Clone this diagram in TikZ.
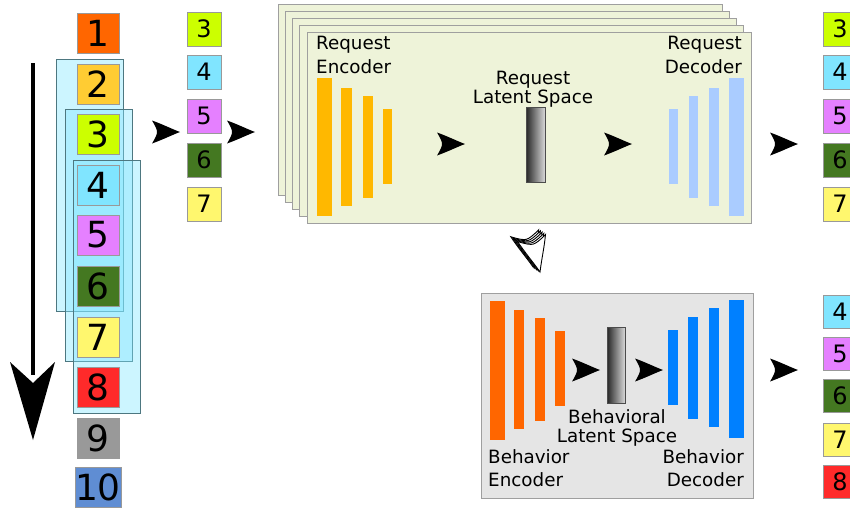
\documentclass[tikz,border=0pt]{standalone}
\usepackage{fontspec}
\setmainfont{DejaVu Sans}

\definecolor{cOne}{HTML}{FF6600}
\definecolor{cTwo}{HTML}{FFCC33}
\definecolor{cThree}{HTML}{CCFF00}
\definecolor{cFour}{HTML}{80E5FF}
\definecolor{cFive}{HTML}{E580FF}
\definecolor{cSix}{HTML}{447821}
\definecolor{cSeven}{HTML}{FFF76E}
\definecolor{cEight}{HTML}{FF2A2A}
\definecolor{cNine}{HTML}{999999}
\definecolor{cTen}{HTML}{5F8DD3}
\definecolor{reqfill}{HTML}{EEF3D9}
\definecolor{encbar}{HTML}{FFB800}
\definecolor{decbar}{HTML}{AACCFF}
\definecolor{benc}{HTML}{FF6600}
\definecolor{bdec}{HTML}{0080FF}
\definecolor{winfill}{HTML}{80E5FF}
\definecolor{winline}{HTML}{4D7780}

\tikzset{
  bigsq/.style={draw=gray!80, line width=0.8pt, fill=#1, minimum width=42pt,
    minimum height=40pt, inner sep=0pt, font=\fontsize{36}{36}\selectfont},
  smallsq/.style={draw=gray!80, line width=0.8pt, fill=#1, minimum width=34pt,
    minimum height=34pt, inner sep=0pt, font=\fontsize{24}{24}\selectfont},
  outsq/.style={draw=gray!80, line width=0.8pt, fill=#1, minimum width=34pt,
    minimum height=33pt, inner sep=0pt, font=\fontsize{24}{24}\selectfont},
  window/.style={draw=winline, line width=0.8pt, fill=winfill, fill opacity=0.4},
  panel/.style={draw=gray!75, line width=1pt},
  lbl/.style={inner sep=0pt, font=\fontsize{18.3}{22}\selectfont},
  latent/.style={draw=gray!60!black, line width=0.8pt, left color=black!85,
    right color=black!15},
  % free-standing arrowhead, tip at the pic origin, pointing along +x
  arrhd/.pic={
    \path[pic actions] (0,0) .. controls (-8,-3) and (-18,-8) .. (-28,-11.5)
      .. controls (-24,-5) and (-23,-2) .. (-23,0)
      .. controls (-23,2) and (-24,5) .. (-28,11.5)
      .. controls (-18,8) and (-8,3) .. (0,0) -- cycle;
  },
}

\begin{document}
\begin{tikzpicture}[x=1pt,y=-1pt]
\useasboundingbox (0,0) rectangle (850,507);
\clip (0,0) rectangle (850,507);

% sliding windows over the sequence
\draw[window] (56,59) rectangle (123,311);
\draw[window] (65,109) rectangle (132,361);
\draw[window] (73,160) rectangle (140,413);

% input sequence
\node[bigsq=cOne]   (s1)  at (98,33)  {1};
\node[bigsq=cTwo]   (s2)  at (98,84)  {2};
\node[bigsq=cThree] (s3)  at (98,134) {3};
\node[bigsq=cFour]  (s4)  at (98,185) {4};
\node[bigsq=cFive]  (s5)  at (98,235) {5};
\node[bigsq=cSix]   (s6)  at (98,286) {6};
\node[bigsq=cSeven] (s7)  at (98,337) {7};
\node[bigsq=cEight] (s8)  at (98,387) {8};
\node[bigsq=cNine]  (s9)  at (98,438) {9};
\node[bigsq=cTen]   (s10) at (98,487) {10};

% time axis
\draw[line width=4pt] (33,63) -- (33,375);
\fill (33,440) -- (10,362) -- (33,383) -- (55,362) -- cycle;

% current window
\node[smallsq=cThree] (w3) at (204,29)  {3};
\node[smallsq=cFour]  (w4) at (204,72)  {4};
\node[smallsq=cFive]  (w5) at (204,116) {5};
\node[smallsq=cSix]   (w6) at (204,160) {6};
\node[smallsq=cSeven] (w7) at (204,204) {7};

\pic[fill=black] at (180,132) {arrhd};
\pic[fill=black] at (255,132) {arrhd};

% stack of request autoencoders
\foreach \k in {4,3,2,1,0}
  \filldraw[panel, fill=reqfill] (307-7.25*\k,32-7*\k) rectangle ++(444,191);

\fill[encbar] (317,78) rectangle (332,216);
\fill[encbar] (341,88) rectangle (352,206);
\fill[encbar] (363,96) rectangle (373,198);
\fill[encbar] (383,109) rectangle (392,184);

\fill[decbar] (669,109) rectangle (678,184);
\fill[decbar] (689,96) rectangle (698,198);
\fill[decbar] (709,88) rectangle (719,206);
\fill[decbar] (729,78) rectangle (744,216);

\shade[latent] (526,107) rectangle (545,182);

\node[lbl, anchor=base west] (reL1) at (316,49) {Request};
\node[lbl, anchor=base west] (reL2) at (316,73) {Encoder};
\node[lbl, anchor=base east] (rdL1) at (742,49) {Request};
\node[lbl, anchor=base east] (rdL2) at (742,73) {Decoder};
\node[lbl, anchor=base] (rlL1) at (533,84)  {Request};
\node[lbl, anchor=base] (rlL2) at (533,103) {Latent Space};

\pic[fill=black] at (465,144) {arrhd};
\pic[fill=black] at (632,144) {arrhd};
\pic[fill=black] at (798,144) {arrhd};

% reconstructed window
\node[smallsq=cThree] (r3) at (840,29)  {3};
\node[smallsq=cFour]  (r4) at (840,72)  {4};
\node[smallsq=cFive]  (r5) at (840,116) {5};
\node[smallsq=cSix]   (r6) at (840,160) {6};
\node[smallsq=cSeven] (r7) at (840,204) {7};

% stacked latent codes passed down
\foreach \k in {4,3,2,1,0}
  \pic[fill=white, draw=black, line width=0.9pt, rotate=-76, scale=1.25]
    at (540-1.7*\k,272-1.2*\k) {arrhd};

% behaviour autoencoder
\filldraw[panel, fill=black!10] (481,293) rectangle (753,498);

\fill[benc] (490,301) rectangle (505,440);
\fill[benc] (514,310) rectangle (524,429);
\fill[benc] (535,318) rectangle (545,421);
\fill[benc] (555,331) rectangle (565,406);

\shade[latent] (607,327) rectangle (625,403);

\fill[bdec] (668,330) rectangle (678,405);
\fill[bdec] (688,317) rectangle (698,419);
\fill[bdec] (709,308) rectangle (719,427);
\fill[bdec] (729,300) rectangle (744,438);

\pic[fill=black] at (600,370) {arrhd};
\pic[fill=black] at (663,370) {arrhd};

\node[lbl, anchor=base] (blL1) at (617,423) {Behavioral};
\node[lbl, anchor=base] (blL2) at (617,442) {Latent Space};
\node[lbl, anchor=base west] (beL1) at (488,463) {Behavior};
\node[lbl, anchor=base west] (beL2) at (488,486) {Encoder};
\node[lbl, anchor=base east] (bdL1) at (744,463) {Behavior};
\node[lbl, anchor=base east] (bdL2) at (744,486) {Decoder};

\pic[fill=black] at (798,370) {arrhd};

% predicted next window
\node[outsq=cFour]  (p4) at (840,312) {4};
\node[outsq=cFive]  (p5) at (840,354) {5};
\node[outsq=cSix]   (p6) at (840,396) {6};
\node[outsq=cSeven] (p7) at (840,440) {7};
\node[outsq=cEight] (p8) at (840,482) {8};
\end{tikzpicture}
\end{document}
